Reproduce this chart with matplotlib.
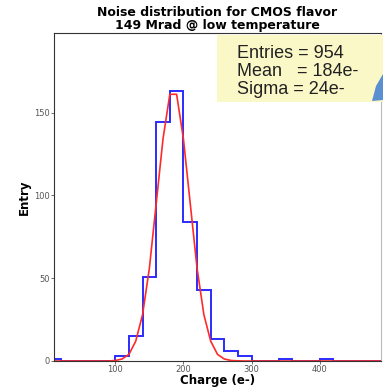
import matplotlib
matplotlib.use("Agg")
import matplotlib.pyplot as plt
from matplotlib.patches import Rectangle, Polygon

# histogram of noise (20 e- bins from 0 to 500)
bin_edges = list(range(0, 520, 20))
counts = [1, 0, 0, 0, 0, 3, 15, 51, 144, 163, 84, 43, 13, 6, 3, 0, 0, 1,
          0, 0, 1, 0, 0, 0, 0]

# gaussian fit curve, every 10 e-
fit_x = list(range(0, 500, 10))
fit_y = [0, 0, 0, 0, 0, 0, 0, 0, 0, 0,
         0.3, 1.2, 4, 12, 28, 56, 95, 134, 161, 161,
         134, 95, 56, 28, 12, 4, 1.2, 0.3, 0.1, 0,
         0, 0, 0, 0, 0, 0, 0, 0, 0, 0,
         0, 0, 0, 0, 0, 0, 0, 0, 0, 0]

x_ticks = [100, 200, 300, 400]
y_ticks = [0, 50, 100, 150]
stats_lines = ["Entries = 954", "Mean   = 184e-", "Sigma = 24e-"]

W, H = 383, 388
fig = plt.figure(figsize=(W / 100, H / 100), dpi=100)
ax = fig.add_axes([54 / W, 1 - 361 / H, 327 / W, 328 / H])

ax.stairs(counts, bin_edges, color="#2b2bff", linewidth=1.4)
ax.plot(fit_x, fit_y, color="#ff2a2a", linewidth=1.2)

ax.set_xlim(10, 490)
ax.set_ylim(0, 198)
ax.set_xticks(x_ticks)
ax.set_yticks(y_ticks)
ax.tick_params(labelsize=6, colors="#555555", length=2, width=0.6, pad=1)
for spine in ax.spines.values():
    spine.set_linewidth(0.8)
    spine.set_color("#333333")
ax.spines["right"].set_color("#bbbbbb")

ax.set_title("Noise distribution for CMOS flavor\n149 Mrad @ low temperature",
             fontsize=9, fontweight="bold", linespacing=1.0, pad=3)
ax.set_xlabel("Charge (e-)", fontsize=8.5, fontweight="bold", va="center")
ax.set_ylabel("Entry", fontsize=8.5, fontweight="bold", va="center")
ax.xaxis.set_label_coords(0.5, -19.5 / 328)
ax.yaxis.set_label_coords(-30 / 327, 0.5)

# stats box pasted on top of the plot
fig.patches.append(Rectangle((217 / W, 1 - 102 / H), (W - 217) / W, 67 / H,
                             transform=fig.transFigure, facecolor="#fbf8c8",
                             edgecolor="none", zorder=5))
for i, line in enumerate(stats_lines):
    fig.text(237 / W, 1 - (58 + 18 * i) / H, line, fontsize=13,
             family="Liberation Sans", color="#222222", va="baseline", zorder=6)
fig.patches.append(Polygon([(372 / W, 1 - 101 / H), (376 / W, 1 - 86 / H),
                            (383 / W, 1 - 74 / H), (383 / W, 1 - 100 / H)],
                           closed=True, transform=fig.transFigure,
                           facecolor="#5a8fd2", edgecolor="none", zorder=6))

fig.savefig("out.png", dpi=100)
